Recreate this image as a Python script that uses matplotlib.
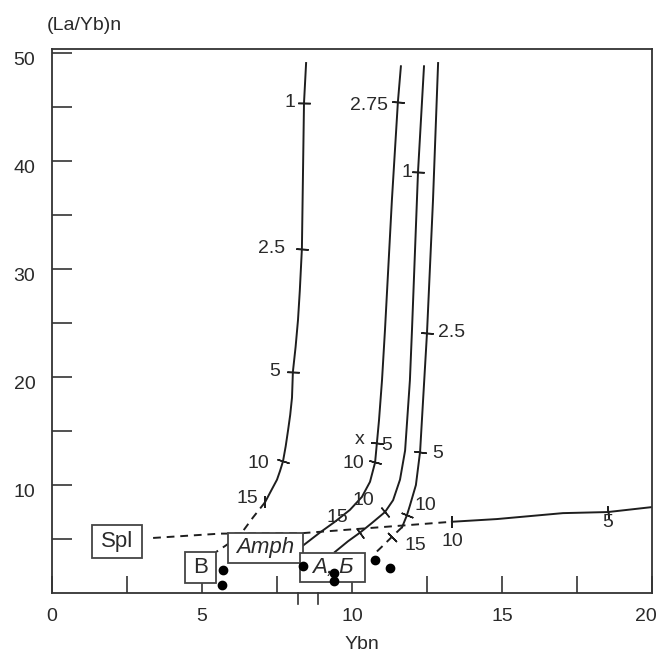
import numpy as np
import matplotlib
matplotlib.use("Agg")
from matplotlib import pyplot as plt
from matplotlib.patches import Rectangle
from matplotlib.transforms import ScaledTranslation, blended_transform_factory

plt.rcParams['font.family'] = ['Liberation Sans', 'DejaVu Sans']

# curves (Ybn, (La/Yb)n)
c1_x = [8.47, 8.40, 8.33, 8.26, 8.20, 8.12, 8.03, 8.00, 7.94, 7.87, 7.79, 7.70, 7.60, 7.50, 7.27, 7.10]
c1_y = [49.1, 45.4, 31.9, 28.0, 25.3, 22.8, 20.5, 18.1, 16.5, 15.1, 13.6, 12.2, 11.3, 10.5, 9.3, 8.4]
c1_dash_x = [7.10, 6.70, 6.33, 5.90, 5.47]
c1_dash_y = [8.4, 7.0, 5.6, 4.6, 3.8]

c2_x = [11.63, 11.53, 11.33, 11.10, 11.00, 10.90, 10.83, 10.77, 10.60, 10.33, 9.93, 9.43, 8.93, 8.37]
c2_y = [48.8, 45.5, 36.4, 24.4, 19.7, 16.0, 13.9, 12.1, 10.3, 8.9, 7.7, 6.6, 5.6, 4.4]

c3_x = [12.40, 12.20, 12.00, 11.93, 11.77, 11.60, 11.37, 11.10, 10.67, 10.27, 9.87, 9.43]
c3_y = [48.8, 39.0, 24.4, 19.7, 13.2, 10.5, 8.6, 7.5, 6.5, 5.6, 4.8, 3.8]

c4_x = [12.87, 12.70, 12.50, 12.37, 12.27, 12.13, 11.93, 11.83, 11.67]
c4_y = [49.1, 36.4, 24.1, 17.9, 13.1, 10.0, 8.1, 7.2, 6.1]
c4_dash_x = [11.67, 11.33, 11.00, 10.70]
c4_dash_y = [6.1, 5.2, 4.3, 3.5]

h_dash_x = [3.37, 5.60, 8.37, 10.50, 13.33]
h_dash_y = [5.1, 5.5, 5.55, 6.0, 6.6]
h_x = [13.33, 14.83, 17.03, 18.53, 20.0]
h_y = [6.6, 6.85, 7.4, 7.5, 7.96]

# tick marks on the curves
ticks = [
    (c1_x + c1_dash_x, c1_y + c1_dash_y, [(8.40, 45.4), (8.33, 31.9), (8.03, 20.5), (7.70, 12.2), (7.10, 8.4)]),
    (c2_x, c2_y, [(11.53, 45.5), (10.83, 13.9), (10.77, 12.1)]),
    (c3_x, c3_y, [(12.20, 39.0), (11.10, 7.5), (10.27, 5.6)]),
    (c4_x + c4_dash_x, c4_y + c4_dash_y, [(12.50, 24.1), (12.27, 13.1), (11.83, 7.2), (11.33, 5.2)]),
    (h_dash_x + h_x, h_dash_y + h_y, [(13.33, 6.6), (18.53, 7.5)]),
]

tick_labels = ["1", "2.5", "5", "10", "15",
               "2.75", "x", "5", "10", "10", "15",
               "1",
               "2.5", "5", "10", "15",
               "10", "5"]
tick_label_x = [7.93, 7.33, 7.43, 6.87, 6.50,
                10.57, 10.27, 11.17, 10.03, 10.37, 9.50,
                11.83,
                13.33, 12.87, 12.43, 12.10,
                13.33, 18.53]
tick_label_y = [45.4, 31.9, 20.5, 12.0, 8.8,
                45.2, 14.2, 13.7, 12.0, 8.6, 7.0,
                39.0,
                24.1, 12.9, 8.1, 4.4,
                4.8, 6.5]

# samples
pts_x = [5.70, 5.67, 8.37, 9.40, 9.40, 10.77, 11.27]
pts_y = [2.1, 0.74, 2.5, 1.85, 1.1, 3.1, 2.3]

# field boxes: label, x0, x1, y0, y1, italic
boxes = [
    ("Spl", 1.33, 3.00, 3.24, 6.30, False),
    ("В", 4.43, 5.47, 0.93, 3.80, False),
    ("Amph", 5.87, 8.37, 2.78, 5.56, True),
    ("А, Б", 8.27, 10.43, 1.02, 3.70, True),
]

ink = '#1e1e1e'
txt = '#2a2a2a'

fig = plt.figure(figsize=(6.59, 6.55), dpi=100)
ax = fig.add_axes([52 / 659, 1 - 593 / 655, 600 / 659, 544 / 655])
ax.set_xlim(0, 20)
ax.set_ylim(0, 50.4)

for s in ax.spines.values():
    s.set_color('#333333')
    s.set_linewidth(1.3)

ax.set_xticks([0, 5, 10, 15, 20])
ax.set_xticks([2.5, 7.5, 12.5, 17.5], minor=True)
ax.set_yticks([10, 20, 30, 40, 50])
ax.set_yticks([5, 15, 25, 35, 45], minor=True)
ax.tick_params(axis='x', which='both', direction='in', length=12, width=1.2,
               color='#333333', labelsize=14, labelcolor=txt, pad=11)
ax.tick_params(axis='y', which='both', direction='in', length=14.5, width=1.2,
               color='#333333', labelsize=14, labelcolor=txt, pad=12)
# y labels sit a little below their ticks, last x label pulled inside
for lab in ax.get_yticklabels():
    lab.set_transform(lab.get_transform() + ScaledTranslation(0, -5 / 100, fig.dpi_scale_trans))
xl = ax.get_xticklabels()
xl[-1].set_transform(xl[-1].get_transform() + ScaledTranslation(-6 / 100, 0, fig.dpi_scale_trans))

# two short marks under the axis
bt = blended_transform_factory(ax.transData, ax.transAxes)
for xm in [8.19, 8.86]:
    ax.plot([xm, xm], [0, -0.02], color='#333333', lw=1.2, transform=bt, clip_on=False)

lw = 1.4
ax.plot(c1_x, c1_y, color=ink, lw=lw)
ax.plot(c1_dash_x, c1_dash_y, color=ink, lw=lw, ls=(0, (4, 3)))
ax.plot(c2_x, c2_y, color=ink, lw=lw)
ax.plot(c3_x, c3_y, color=ink, lw=lw)
ax.plot(c4_x, c4_y, color=ink, lw=lw)
ax.plot(c4_dash_x, c4_dash_y, color=ink, lw=lw, ls=(0, (4, 3)))
ax.plot(h_dash_x, h_dash_y, color=ink, lw=lw, ls=(0, (4, 3)))
ax.plot(h_x, h_y, color=ink, lw=lw)

# ticks perpendicular to the curve
for cx, cy, tk in ticks:
    disp = ax.transData.transform(np.column_stack([cx, cy]))
    for tx, ty in tk:
        p = ax.transData.transform((tx, ty))
        d = np.hypot(disp[:, 0] - p[0], disp[:, 1] - p[1])
        i = int(np.argmin(d))
        j = i + 1 if i + 1 < len(disp) else i - 1
        a, b = sorted([i, j])
        vx, vy = disp[b] - disp[a]
        ang = np.degrees(np.arctan2(vy, vx))
        ax.plot(tx, ty, marker=(2, 2, ang), ms=9, mew=1.1, color=ink, ls='none')

for lab, lx, ly in zip(tick_labels, tick_label_x, tick_label_y):
    ax.text(lx, ly, lab, fontsize=14, color=txt, ha='center', va='center')

for lab, x0, x1, y0, y1, it in boxes:
    ax.add_patch(Rectangle((x0, y0), x1 - x0, y1 - y0, facecolor='white',
                           edgecolor='#444444', lw=1.3, zorder=4))
    ax.text((x0 + x1) / 2, (y0 + y1) / 2, lab, fontsize=16, color=txt,
            ha='center', va='center', style='italic' if it else 'normal', zorder=5)

ax.plot(pts_x, pts_y, 'o', color='black', ms=6, zorder=6, clip_on=False)

fig.text(47 / 659, 1 - 25 / 655, "(La/Yb)n", fontsize=14, color=txt, ha='left', va='center')
fig.text(362 / 659, 1 - 636 / 655, "Ybn", fontsize=14, color=txt, ha='center', va='top')

fig.savefig('out.png', dpi=100)
